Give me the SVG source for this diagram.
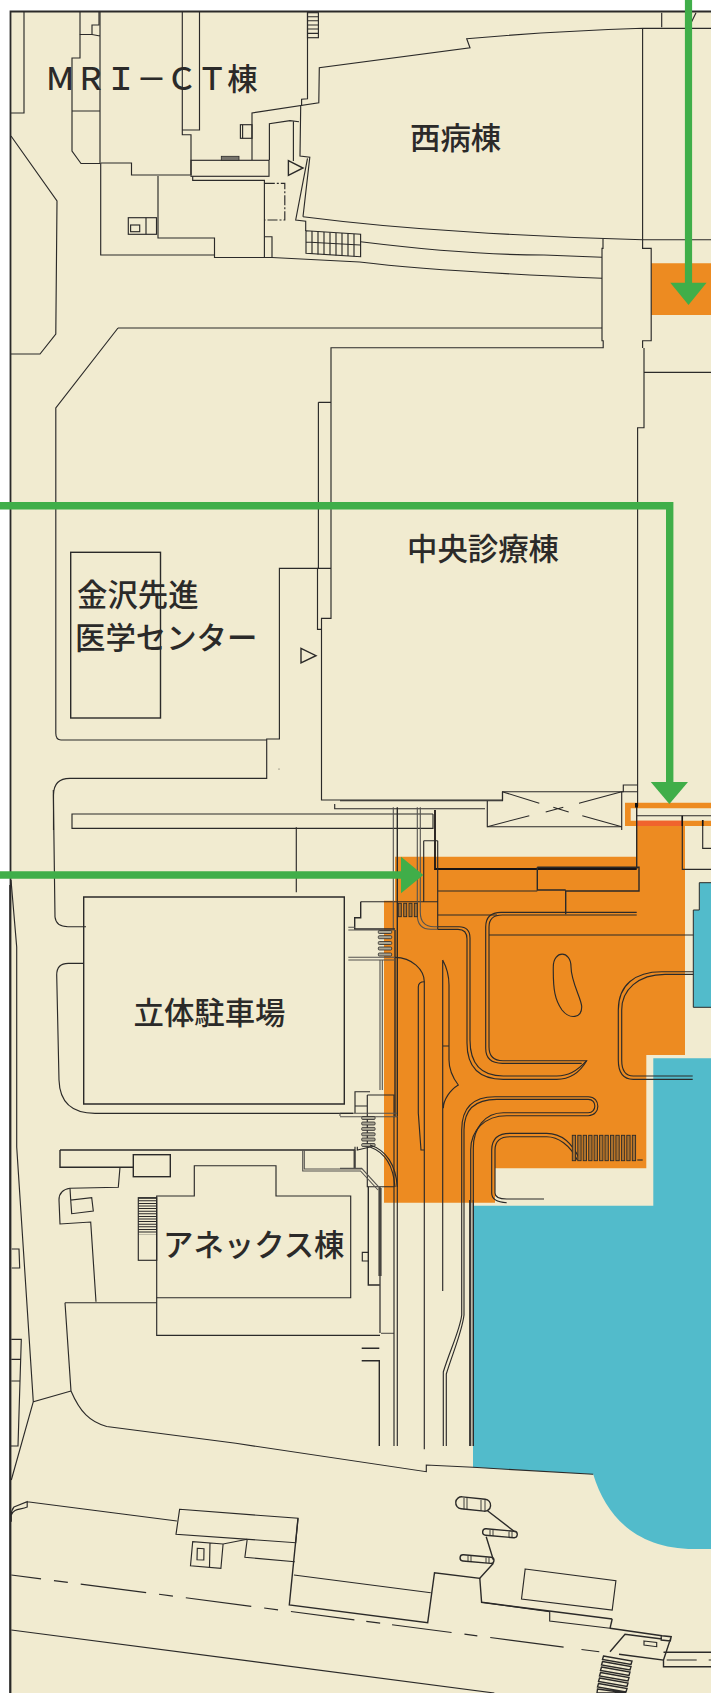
<svg xmlns="http://www.w3.org/2000/svg" width="711" height="1693" viewBox="0 0 711 1693">
<style>
.l{fill:none;stroke:#2b2a29;stroke-width:1.15}
.m{fill:none;stroke:#2b2a29;stroke-width:1.4}
.h{fill:none;stroke:#1a1413;stroke-width:1.8}
.g{fill:none;stroke:#55534f;stroke-width:1.1}
.t{font-family:"Noto Sans CJK JP","Noto Sans",sans-serif;font-weight:500;font-size:30.4px;fill:#2b2a29}
.r{fill:#a9a593;stroke:#2b2a29;stroke-width:.8}
.o{fill:#ed8b21}
.b{fill:#52bbcb}
.a{fill:#40ae49}
</style>
<defs>
<rect id="bar" width="3.3" height="25.4" fill="#a8702f" stroke="#2b2a29" stroke-width=".9"/>
<rect id="rung" width="13.4" height="3" rx="1" class="r"/>
<rect id="bar2" width="3" height="13.4" fill="#a8702f" stroke="#2b2a29" stroke-width=".9"/>
</defs>
<rect width="711" height="1693" fill="#fff"/>
<rect x="10.5" y="11.5" width="701" height="1682" fill="#f1ebd0"/>

<g id="areas">
<path class="b" d="M711,1058.3H653.3V1205.7H473V1467.3L593.2,1474.3C607,1520 640,1549 694,1549H711Z"/>
<path class="b" d="M711,882.7H699.3V910H693.3V1007.3H711" stroke="#2b2a29" stroke-width="1"/>
<path class="o" d="M651.2,263.3H711V315H651.2Z"/>
<path class="o" d="M395,856.7H636V826H685V1055H646.3V1168.3H495V1202.7H384V900.7H395Z"/>
<path class="o" fill-rule="evenodd" d="M625,802.7H711V826H625ZM630.7,808.3V820.7H711V808.3Z"/>
<rect x="636.7" y="820.7" width="45.6" height="5.3" fill="#f0642d"/>
</g>

<g id="plan-north">
<path class="l" d="M10.5,113H24V12"/>
<path class="l" d="M80,12V34.5H92V25H99V12"/>
<path class="l" d="M80,34.5V58H72V151L81,163.5H100M72,111H100M100,12V163M92,34.5L100,36"/>
<path class="l" d="M100.7,163V255H214.5M100.7,163H131.5V175H190.5"/>
<path class="l" d="M158,176V238H214.5V257.5H272L359.6,262C400,267 453,272 602,278.3"/>
<rect class="l" x="128.3" y="217.7" width="28.2" height="16.6"/>
<path class="l" d="M146,217.7V234.3"/>
<rect class="l" x="130.6" y="225" width="9.1" height="6.7"/>
<path class="l" d="M182.3,12V130H199.5V12M182.3,130V134.7H191V175"/>
<rect class="l" x="191" y="160.3" width="78" height="16"/>
<path class="l" d="M192.7,176.3V180.3H264.4V257"/>
<path class="l" d="M252,160V113L318.8,102.7L319.3,67.7L470,47.7L466.7,38.7C520,34 590,30 642.6,28.3H711"/>
<path class="l" d="M307.5,12V98.7L301.6,99.3V105.7M300.7,105.7L300,156L309.8,157.3L303,216.7"/>
<path class="l" d="M269.4,160V123.7L290,120.7L299,121.7M293.4,121.7V161M307.5,158.3L295.7,220L305.7,221.3V231"/>
<path class="l" d="M303,216.7C360,224 420,229 467,231.7C530,236 590,238.5 642.6,239.7H711"/>
<path class="l" d="M642.6,28.3V248.3H651.2V340.7H642.6V348M661.7,12.7V27.3M691,23L696,12.7"/>
<rect class="l" x="307.5" y="12.7" width="10.9" height="25"/>
<path class="l" d="M307.5,16.7H318.4M307.5,20.7H318.4M307.5,25H318.4M307.5,29H318.4M307.5,33.3H318.4"/>
<rect class="l" x="240.4" y="124.7" width="11.6" height="13.6"/>
<path class="l" d="M242.6,124.7V138.3"/>
<rect x="221.3" y="156.3" width="17.7" height="4" fill="#77746c" stroke="#2b2a29" stroke-width=".8"/>
<path class="m" d="M288.4,160.7L303,168L288.4,175.3Z"/>
<path class="l" d="M264.8,183.3H284.8V220H264.8" stroke-dasharray="10 2 2 2"/>
<path class="l" d="M264.8,236.7H272V257"/>
<path class="l" d="M306,230.7L360.6,234.3V256.7L306,253.3ZM306,242L360,245"/>
<path class="l" d="M312,231V254M318,231.5V254.5M324,232V255M330,232.5V255M336,233V255.5M342,233V256M348,233.5V256M354,234V256.5"/>
<path class="l" d="M360.5,241.7C420,249 490,255 544,255L602,257.3"/>
<path class="l" d="M603,238.7V248.3H602V340.7H603.2V347.7H331V618.3H321.5V800H502.5V791.7H623.6"/>
<path class="l" d="M118,328H602M118,328L55.8,408V733.3Q55.8,740 61,740H266.7"/>
<path class="l" d="M11,136L57,201L55.8,334L40,354H11"/>
<path class="l" d="M644,348V427.7H637.6V806M644,372.3H711"/>
<path class="l" d="M318.4,402.3H331M318.4,402.3V568.3H279.4V739H266.7V778.3H70Q53.5,778.3 53.5,795V830"/>
<path class="l" d="M317.5,568.3H331M317.5,568.3V629.3H321.5"/>
<rect class="m" x="70.7" y="552.3" width="89.8" height="165.7"/>
<path class="m" d="M301,648.3L316,655.7L301,663Z"/>
<circle cx="279" cy="769" r=".5" fill="#2b2a29"/>
</g>

<g id="plan-centre">
<path class="l" d="M623.3,791.7V785H637.6M621.7,791.7H637.6"/>
<path class="l" d="M340,800.7H502.5V791.7M621.7,791.7V830M487.3,800.7V826.7H621.7"/>
<path class="l" d="M502.3,791.7L539.3,803.3M621.7,791.7L579,803.3M487.3,826.7L529.3,815.7M621.7,826.7L582.3,815.7M545.7,812L563.3,807.3M553.3,807.3L568.7,812"/>
<path class="l" d="M334.7,804V808.7H485"/>
<path class="l" d="M433,814H72V828.3H433V814"/>
<path class="l" d="M296.3,827.3V892.3"/>
<path class="h" d="M435,810V869H636.7"/>
<path class="m" d="M636.7,805V869"/>
<path class="l" d="M636.7,815.7H711M682.3,815.7V869.3H711M702.7,820V848.3H711"/>
<path d="M682.3,815.7V826M702.7,820V826" stroke="#111" stroke-width="1.5" fill="none"/>
<rect x="635" y="803" width="3" height="4.5" fill="#111"/>
<path class="m" d="M537.3,867.3H639V891H565.7V914.3M537.3,867.3V890H565.7"/>
<path class="l" d="M437.7,891H537.3M437.7,840.7V929.3M423.7,840.7H437.7M423.7,840.7V901.7M437.7,915H497M360.7,901.7H437.7"/>
<path class="g" d="M393.3,807.3V930M417.3,807.3V915Q417.3,929.3 431,929.3H437.7M420.3,807.3V912Q420.3,926.7 434,926.7H437.7"/>
<path class="m" d="M397.3,807.3V1116.7M395,930V1116.7"/>
<path class="l" d="M437.7,926.7H459Q470,926.7 470,938V1040Q470,1076 503.3,1076H556.7C568,1076 576,1072 586.7,1060.7"/>
<path class="l" d="M437.7,929.3H458Q467,929.3 467,939V1043Q467,1079.3 503.3,1079.3H556.7C570,1079.3 580,1072 586.7,1060.7H503Q489,1060.7 489,1047V927Q489,915 502.3,915H636.7"/>
<path class="l" d="M485.7,927Q485.7,912.3 501,912.3H636.7M485.7,927V1048.3Q485.7,1063.3 502.3,1063.3H581.7"/>
<path class="l" d="M489,935H693.3"/>
<path class="l" d="M618.3,1060V1010C618.3,985 635,971.7 661.7,971.7H693.3M621.7,1060V1010C621.7,990 638,974.3 665,974.3H693.3"/>
<path class="l" d="M618.3,1060Q618.3,1079.3 633.3,1079.3H692.7M621.7,1060Q621.7,1076 633.3,1076H692.7"/>
<path class="l" d="M553.3,966.7C553.3,950 571,950 571,966.7C571,982 582,1000 581.7,1007C581.7,1018 570,1020 562,1010C555,1000 553,990 553.3,966.7Z"/>
<path class="m" d="M360.7,901.7V917.7H354.7V929H395"/>
<path class="g" d="M348.3,927.3H355M348.3,930H395M348.3,957.3H395M348.3,960H395"/>
<use href="#bar2" x="398.3" y="903.3"/><use href="#bar2" x="403.7" y="903.3"/><use href="#bar2" x="409" y="903.3"/><use href="#bar2" x="414.3" y="903.3"/>
<use href="#rung" x="378.3" y="930.5"/><use href="#rung" x="378.3" y="935.7"/><use href="#rung" x="378.3" y="941.5"/><use href="#rung" x="378.3" y="947"/><use href="#rung" x="378.3" y="953"/>
<path class="g" d="M380,960V1090M382.3,960V1090"/>
<path class="l" d="M395,957.3C412,957.3 424.3,970 424.3,981.7V1449.3"/>
<path class="l" d="M424.3,981.7Q418.3,981.7 418.3,987V1113L421,1150H424.3"/>
<path class="l" d="M442.7,960V1291M442.7,960C447,968 449,975 449,985V1060C449,1070 453,1078 458.3,1085C450,1090 443.3,1100 443.3,1108.3M442.7,1046H449"/>
<path class="m" d="M83.7,897H344.3V1104H83.7Z"/>
<path class="l" d="M461.7,1315V1130Q461.7,1096.7 495,1096.7H588.3C601,1096.7 601,1115.7 588.3,1115.7H506.7C485,1115.7 470.7,1130 470.7,1150V1446"/>
<path class="l" d="M464,1315V1130Q464,1099.3 496.7,1099.3H588.3C597,1099.3 597,1112.7 588.3,1112.7H503.3C485,1112.7 473.3,1128 473.3,1148V1446"/>
<path class="l" d="M461.7,1315C460,1330 450,1350 443.3,1372V1446M464,1315C462,1332 453,1352 446.3,1374V1446"/>
<path class="l" d="M580,1160C572,1142 560,1133.3 546.7,1133.3H510Q491.7,1133.3 491.7,1150V1193Q491.7,1202 506.7,1202.7"/>
<path class="l" d="M577.3,1160C570,1145 558,1136.7 546.7,1136.7H510Q495,1136.7 495,1150V1193Q495,1199 506.7,1199H544"/>
<use href="#bar" x="572.3" y="1135.3"/><use href="#bar" x="577.8" y="1135.3"/><use href="#bar" x="583.2" y="1135.3"/><use href="#bar" x="588.7" y="1135.3"/><use href="#bar" x="594.1" y="1135.3"/><use href="#bar" x="599.6" y="1135.3"/><use href="#bar" x="605" y="1135.3"/><use href="#bar" x="610.5" y="1135.3"/><use href="#bar" x="615.9" y="1135.3"/><use href="#bar" x="621.4" y="1135.3"/><use href="#bar" x="626.8" y="1135.3"/><use href="#bar" x="632.3" y="1135.3"/>
<path class="l" d="M637.3,1160H642.7"/>
<path class="l" d="M355,1113V1091.7H370M355,1106H367.3M367.3,1095H394V1117M367.3,1095V1186.7H394.3"/>
<path class="g" d="M340,1113.3H397M340,1116.7H397"/>
<use href="#rung" x="361.7" y="1116.5"/><use href="#rung" x="361.7" y="1122"/><use href="#rung" x="361.7" y="1127.4"/><use href="#rung" x="361.7" y="1132.8"/><use href="#rung" x="361.7" y="1138"/><use href="#rung" x="361.7" y="1143.5"/>
</g>

<g id="plan-south">
<path class="l" d="M53.3,790L55,917Q56,926.7 68,926.7H86"/>
<path class="l" d="M83.7,963.3H68.3Q56.7,963.3 56.7,975L59,1080Q60,1113.3 95,1113.3H353"/>
<path class="g" d="M340,1113.3V1116"/>
<path class="l" d="M357.3,1146.7V1150L370,1147C384,1152 393.3,1165 395,1187M370,1145C386,1150 396,1165 397.3,1187"/>
<path class="l" d="M355,1146.7V1168.3"/>
<path class="m" d="M60,1150H354.3V1169M60,1150V1167.3H133.3"/>
<rect class="m" x="133.3" y="1154.7" width="37" height="22"/>
<path class="l" d="M120,1167.3L118.3,1187.3L70,1188.3Q59,1190 59,1200L60,1224L90.7,1222L96,1301.7"/>
<path class="l" d="M70,1188.3L70.7,1200L91.7,1197.7L93.3,1211L71.7,1213.7L70.7,1200"/>
<path class="l" d="M65,1302.7H156.7M65,1302.7L71,1391C80,1412 90,1422 106.7,1426.5L235.8,1443.3L426.3,1471.7V1465L473,1467.3L593.2,1474.3"/>
<path class="l" d="M156.7,1196H194.3V1165.7H276V1196H350.7V1297.7H156.7Z"/>
<path class="l" d="M156.7,1297.7V1335.3H380"/>
<rect class="l" x="138.3" y="1197.7" width="18.4" height="62.6"/>
<path d="M147.5,1197.7V1234.3" stroke="#2b2a29" stroke-width="18.4" stroke-dasharray="1 1.6" fill="none"/>
<path class="g" d="M340,1168.3H361.7L380,1188.3M302.7,1150V1171H360.5L378,1190M304.3,1150V1169H361.7M355,1150V1169"/>
<path class="m" d="M368.3,1186.7V1285H380"/>
<path class="l" d="M368.3,1252.3H362.3V1261H368.3"/>
<path d="M380,1187V1333" stroke="#46443f" stroke-width="1.4" fill="none"/>
<path d="M380,1188V1276" stroke="#46443f" stroke-width="3.2" fill="none"/>
<path class="g" d="M381,1333.3H394"/>
<path class="m" d="M361.7,1348.3H379.3M361.7,1360.7H379.3V1446" stroke="#55534f"/>
<path class="l" d="M394,1117V1446M397.3,1117V1446M469.7,1200V1446M473.3,1200V1446"/>
<path class="l" d="M11,880L16.7,947V1147L33.3,1401.7L71,1391M33.3,1401.7L11.3,1480"/>
<path class="l" d="M11.7,1249H19L19.7,1268H11.7M11.3,1339.3H21.3L18,1446H11M11.3,1359.3H20.5M11.3,1381H20"/>
</g>

<g id="plan-bottom">
<path class="l" d="M11.3,1521.7V1515C14,1508 20,1510 27.2,1507V1501.7L14,1507Q11.3,1510 11.3,1515M27.2,1501.7L176.9,1521"/>
<path class="l" d="M179.6,1509.3L298,1518.3L295.7,1542.7L176,1534.3Z"/>
<path class="l" d="M247.2,1539.3L244.9,1557.3L294.8,1561.7M247.2,1539.3L223.1,1544L192.7,1541.7L190.5,1565.7L220.9,1568.3L223.1,1544M210,1542.5L209.5,1567"/>
<path class="l" d="M197.3,1548.3L204,1548.7L203.8,1560L197,1559.7Z"/>
<path class="m" d="M298,1518.3L289.3,1605L427.7,1622.7L434.5,1572.7L479.8,1578.3L481.6,1602.3L612.2,1619"/>
<path class="l" d="M293.9,1575L430.8,1592.7"/>
<path class="l" d="M481.6,1602.3L549.7,1611.7V1621L610,1628.3"/>
<path class="l" d="M525.2,1569L615.9,1580.7L612.2,1610L521.5,1599Z"/>
<path class="m" d="M612.2,1619L610,1628.3"/>
<path class="m" d="M487.5,1510.7L514.7,1531.7M486.2,1536.7L493.4,1560M493.4,1563.3L479.8,1578.3"/>
<g class="m" id="cars">
<rect x="455.7" y="1498" width="35" height="12" rx="6" transform="rotate(6 473.2 1503.7)"/>
<path d="M464,1498V1509.5M467,1498V1509.5M481,1500V1511M485,1500V1511" stroke-width=".9"/>
<rect x="482.6" y="1530" width="34.7" height="6.5" rx="3.2" transform="rotate(5 500 1533.3)"/>
<path d="M490,1530V1536M493,1530V1536M509,1531.5V1537.5M512,1531.5V1537.5" stroke-width=".9"/>
<rect x="460" y="1556" width="34" height="6.2" rx="3.1" transform="rotate(5 477.2 1559.2)"/>
<path d="M468,1556V1561.5M471,1556V1561.5M486,1557.5V1563M489,1557.5V1563" stroke-width=".9"/>
</g>
<path class="l" d="M11.3,1575L603.2,1652.3" stroke-dasharray="30 13 14 13 66 13 14 13 66 13 14 13 64 12 14 12 60 13 13 13 74 18 18"/>
<path class="l" d="M11.3,1630L494.3,1693"/>
<path class="m" d="M610,1651.7L625,1634.3L662,1639M610,1628.3L662,1635.7L671.2,1636.7L670.3,1641L661.2,1640V1636M671.2,1636.7L663.5,1660M619,1654.3L663.5,1660V1666.7H711M663.5,1652.3H711"/>
<path class="l" d="M644,1641L656.7,1642.5V1646.7L644,1645Z"/>
<path class="l" d="M666.7,1660H711" stroke-dasharray="30 12 10"/>
<path class="m" stroke-width=".9" d="M603.5,1656L632,1661L631,1664.5L602.5,1659.5ZM602.5,1661.5L631,1666.5L630,1670L601.5,1665ZM601.5,1667L630,1672L629,1675.5L600.5,1670.5ZM600.5,1672.5L629,1677.5L628,1681L599.5,1676ZM599.5,1678L628,1683L627,1686.5L598.5,1681.5ZM598.5,1683.5L627,1688.5L626,1692L597.5,1687ZM597.5,1689L626,1693H597Z"/>
</g>

<g id="frame">
<path d="M10.5,1693V11.5H711" fill="none" stroke="#2b2a29" stroke-width="1.8"/>
<path d="M10,885V1693" fill="none" stroke="#2b2a29" stroke-width="1.5"/>
</g>

<g id="labels">
<text class="t" x="45" y="90">ＭＲＩ－ＣＴ棟</text>
<text class="t" x="410" y="149">西病棟</text>
<text class="t" x="407" y="560">中央診療棟</text>
<text class="t" x="77" y="605.5">金沢先進</text>
<text class="t" x="75" y="649">医学センター</text>
<text class="t" x="133.5" y="1024">立体駐車場</text>
<text class="t" x="163" y="1255.5">アネックス棟</text>
</g>

<g id="connectors">
<path d="M688.5,0V285" fill="none" stroke="#40ae49" stroke-width="7.2"/>
<path class="a" d="M670.3,282.7H706.6L688.5,305Z"/>
<path d="M0,505.7H669.7V785" fill="none" stroke="#40ae49" stroke-width="7.4"/>
<path class="a" d="M650.8,782H688L669.4,804Z"/>
<path d="M0,875H403" fill="none" stroke="#40ae49" stroke-width="7.4"/>
<path class="a" d="M401,856.7V893.3L423.3,875Z"/>
</g>
</svg>
